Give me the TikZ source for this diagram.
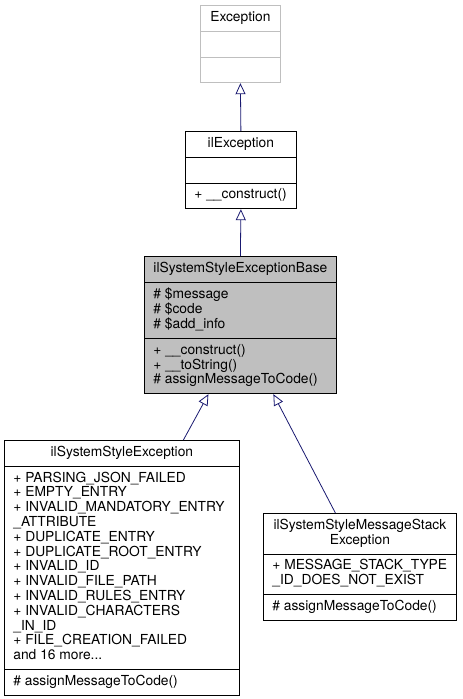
\documentclass[tikz,border=0pt]{standalone}
\usepackage{fontspec}
\setmainfont{TeX Gyre Heros}
\usetikzlibrary{arrows.meta,positioning,shapes.multipart}
\definecolor{edgeblue}{RGB}{25,25,112}
\newcommand{\lines}[1]{\begin{tabular}{@{}l@{}}#1\end{tabular}}

\begin{document}
\begin{tikzpicture}[x=1pt, y=-1pt, every node/.style={
    rectangle split,
    rectangle split parts=3,
    rectangle split part align={center,left,left},
    anchor=north west,
    draw,
    line width=0.8pt,
    fill=white,
    inner xsep=9pt,
    inner ysep=5.1pt,
    font=\fontsize{13.8}{14.8}\selectfont
}]
    \useasboundingbox (0,0) rectangle (463,699);

    \node (exception) [draw=gray!50, minimum width=80pt, shift={(200,5)}]
    {
        \strut Exception
        \nodepart{two} \strut
        \nodepart{three} \strut
    };



    \node (ilexception) [minimum width=111pt, shift={(185,131)}]
    {
        \strut ilException
        \nodepart{two} \strut
        \nodepart{three} \strut + \_\_construct()
    };



    \node (exception_base) [fill=gray!50, minimum width=192pt, shift={(144,256)}]
    {
        \strut ilSystemStyleExceptionBase
        \nodepart{two} \lines{\# \$message\\ \# \$code\\ \# \$add\_info}
        \nodepart{three} \lines{+ \_\_construct()\\ + \_\_toString()\\ \# assignMessageToCode()}
    };



    \node (style_exception) [minimum width=235pt, shift={(4,440)}]
    {
        \strut ilSystemStyleException
        \nodepart{two} \lines{+ PARSING\_JSON\_FAILED\\
            + EMPTY\_ENTRY\\
            + INVALID\_MANDATORY\_ENTRY\\
            \_ATTRIBUTE\\
            + DUPLICATE\_ENTRY\\
            + DUPLICATE\_ROOT\_ENTRY\\
            + INVALID\_ID\\
            + INVALID\_FILE\_PATH\\
            + INVALID\_RULES\_ENTRY\\
            + INVALID\_CHARACTERS\\
            \_IN\_ID\\
            + FILE\_CREATION\_FAILED\\
            and 16 more...}
        \nodepart{three} \strut \# assignMessageToCode()
    };
    \node (message_stack_exception) [minimum width=193pt, shift={(263,513)}]
    {
        \begin{tabular}{@{}c@{}}ilSystemStyleMessageStack\\ Exception\end{tabular}
        \nodepart{two} \lines{+ MESSAGE\_STACK\_TYPE\\ \_ID\_DOES\_NOT\_EXIST}
        \nodepart{three} \strut \# assignMessageToCode()
    };




    \draw[-{Triangle[open, length=11pt, width=10pt]}, edgeblue, line width=0.8pt] (ilexception.north) to (exception.south);
    \draw[-{Triangle[open, length=11pt, width=10pt]}, edgeblue, line width=0.8pt] (exception_base.north) to (ilexception.south);
    \draw[-{Triangle[open, length=11pt, width=10pt]}, edgeblue, line width=0.8pt] ([xshift=61.5pt]style_exception.north) to ([xshift=-32pt]exception_base.south);
    \draw[-{Triangle[open, length=11pt, width=10pt]}, edgeblue, line width=0.8pt] ([xshift=-24.5pt]message_stack_exception.north) to ([xshift=33pt]exception_base.south);


\end{tikzpicture}
\end{document}
